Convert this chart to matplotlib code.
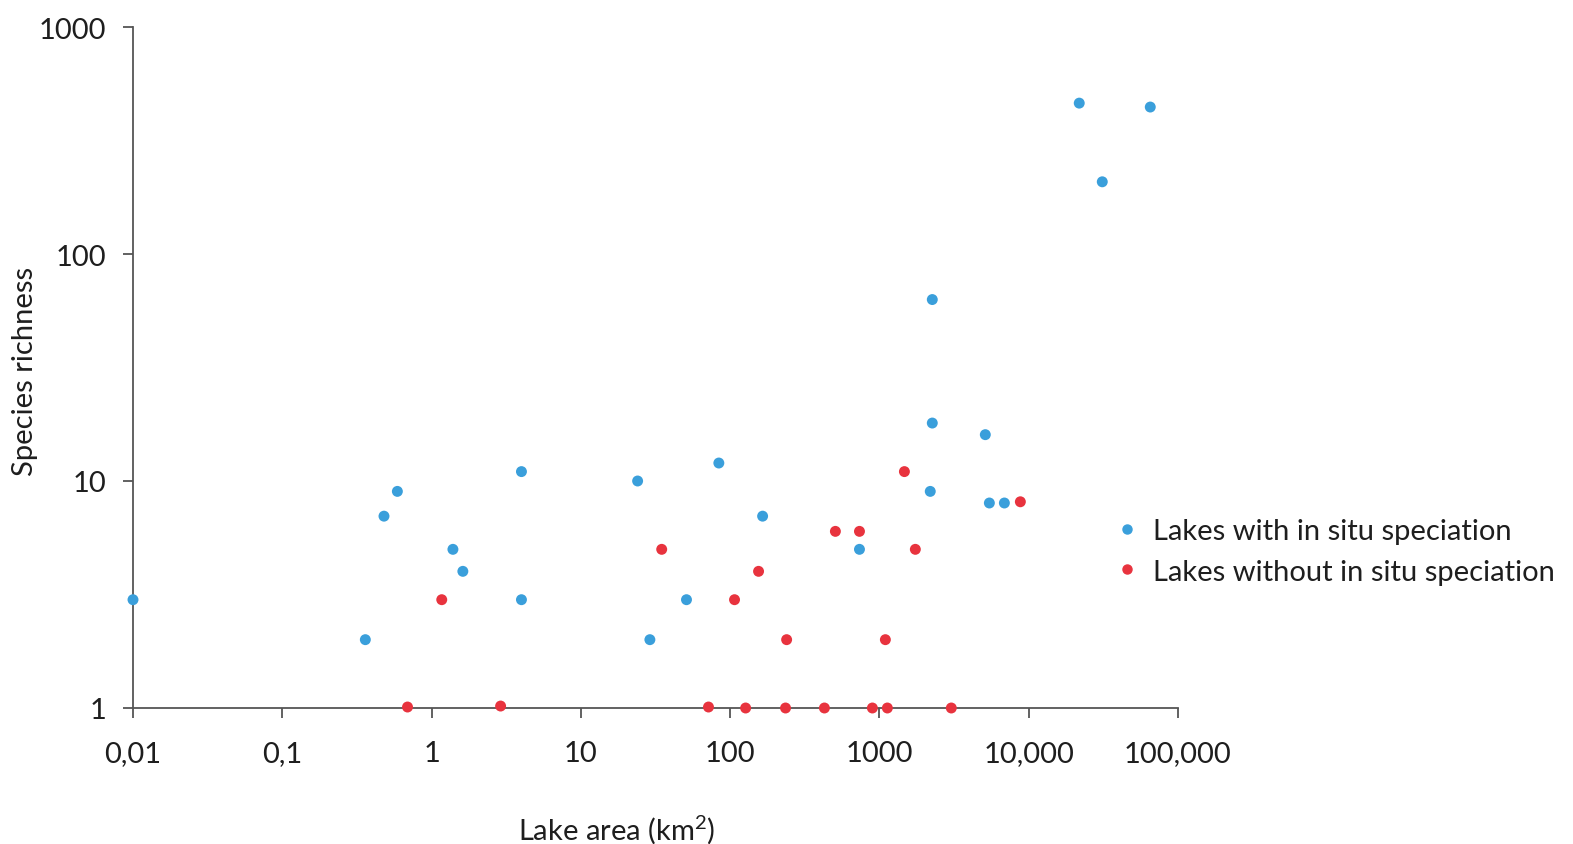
import matplotlib
matplotlib.use("Agg")
import matplotlib.pyplot as plt
from matplotlib.lines import Line2D

# Lakes with in situ speciation
with_area = [0.01, 0.36, 0.48, 0.59, 1.39, 1.62, 4.0, 4.0, 24, 29, 51, 84,
             165, 735, 2190, 2260, 2260, 5120, 5450, 6870, 21800, 31100, 65200]
with_rich = [3, 2, 7, 9, 5, 4, 11, 3, 10, 2, 3, 12,
             7, 5, 9, 63, 18, 16, 8, 8, 462, 208, 444]

# Lakes without in situ speciation
without_area = [0.69, 1.17, 2.9, 34.8, 71.6, 107, 127, 155, 235, 239,
                428, 507, 735, 897, 1096, 1130, 1470, 1740, 3030, 8790]
without_rich = [1.01, 3, 1.02, 5, 1.01, 3, 1, 4, 1, 2,
                1, 6, 6, 1, 2, 1, 11, 5, 1, 8.1]

x_ticks = [0.01, 0.1, 1, 10, 100, 1000, 10000, 100000]
x_tick_labels = ["0,01", "0,1", "1", "10", "100", "1000", "10,000", "100,000"]
y_ticks = [1, 10, 100, 1000]
y_tick_labels = ["1", "10", "100", "1000"]

BLUE = "#3a9fdb"
RED = "#e8333e"
AXIS = "#555555"
TEXT = "#1e1e1e"
FS = 21

plt.rcParams["font.family"] = ["Lato", "DejaVu Sans"]
plt.rcParams["mathtext.default"] = "regular"

fig = plt.figure(figsize=(15.73, 8.45), dpi=100)
ax = fig.add_axes([133 / 1573, 1 - 709 / 845, (1178 - 133) / 1573, (709 - 28) / 845])

ax.scatter(with_area, with_rich, s=62, color=BLUE, edgecolors="none",
           clip_on=False, zorder=3)
ax.scatter(without_area, without_rich, s=62, color=RED, edgecolors="none",
           clip_on=False, zorder=3)

ax.set_xscale("log")
ax.set_yscale("log")
ax.set_xlim(0.01, 100000)
ax.set_ylim(1, 1000)
ax.set_xticks(x_ticks)
ax.set_xticklabels(x_tick_labels)
ax.set_yticks(y_ticks)
ax.set_yticklabels(y_tick_labels)
ax.minorticks_off()

for side in ["top", "right"]:
    ax.spines[side].set_visible(False)
for side in ["left", "bottom"]:
    ax.spines[side].set_color(AXIS)
    ax.spines[side].set_linewidth(1.3)

ax.tick_params(axis="x", length=7, width=1.3, color=AXIS, pad=16,
               labelsize=FS, labelcolor=TEXT)
ax.tick_params(axis="y", length=7, width=1.3, color=AXIS, pad=12,
               labelsize=FS, labelcolor=TEXT)

fig.text(617 / 1573, 1 - 830 / 845, "Lake area (km$^{2}$)", ha="center",
         va="center", fontsize=FS, color=TEXT)
fig.text(25 / 1573, 1 - 371 / 845, "Species richness", ha="center",
         va="center", rotation=90, fontsize=FS, color=TEXT)

handles = [
    Line2D([], [], linestyle="none", marker="o", markersize=6.5, color=BLUE),
    Line2D([], [], linestyle="none", marker="o", markersize=6.5, color=RED),
]
fig.legend(handles, ["Lakes with in situ speciation",
                     "Lakes without in situ speciation"],
           loc="upper left", bbox_to_anchor=(1118 / 1573, 1 - 519 / 845),
           frameon=False, fontsize=FS, handlelength=0.6, handletextpad=0.6,
           labelspacing=0.5, borderaxespad=0, borderpad=0,
           labelcolor=TEXT)

fig.savefig("out.png", dpi=100)
